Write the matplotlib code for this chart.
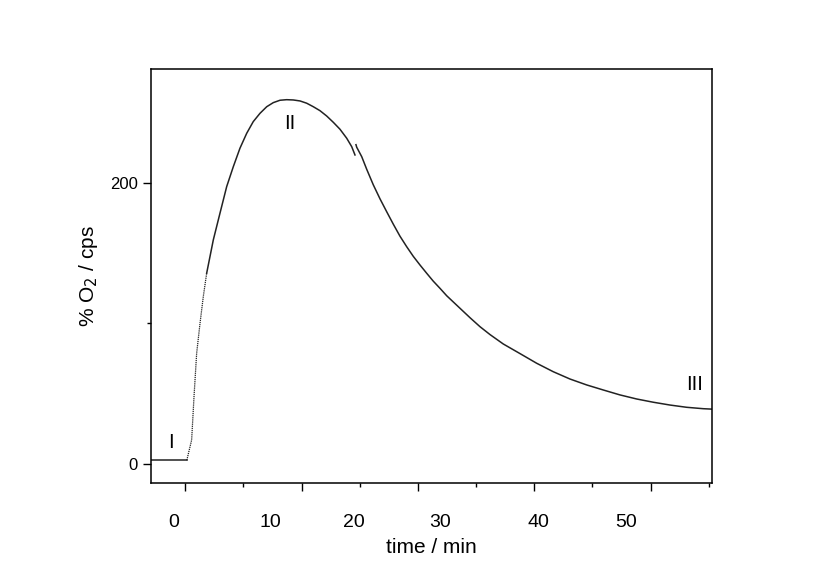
#!/usr/bin/env python3
# -*- coding: utf-8 -*-

import matplotlib
matplotlib.use("Agg")
import matplotlib.pyplot as plt
import numpy as np

plt.rcParams['font.family'] = ['Liberation Sans', 'DejaVu Sans']

# trace: time in min, signal in cps
t_base = [-2.31, -1.0, 0.0, 1.0, 1.62]
o2_base = [2.6, 2.6, 2.6, 2.6, 2.6]
# steep rise (sparsely sampled in the original, looks dotted)
t_rise = [1.62, 1.68, 2.16, 2.42, 2.71, 3.08, 3.44, 3.81]
o2_rise = [2.6, 4.05, 17.1, 47.9, 78.7, 100.0, 119.0, 135.6]
# up to the maximum and down to the break near 20 min
t_peak = [3.81, 4.54, 5.27, 6.01, 6.74, 7.47, 8.21, 8.93, 9.67, 10.41, 11.13,
          11.87, 12.60, 13.33, 14.07, 14.80, 15.53, 16.26, 17.0, 17.73, 18.46,
          19.20, 19.75, 20.11]
o2_peak = [135.6, 159.3, 178.2, 197.2, 211.4, 224.5, 235.1, 243.4, 249.3, 254.0,
           256.9, 258.6, 259.0, 258.8, 258.1, 256.5, 254.0, 251.2, 247.4, 242.9,
           238.0, 231.6, 225.6, 219.7]
# decay after the break
t_decay = [20.22, 20.30, 20.85, 21.40, 22.12, 22.86, 23.59, 24.32, 25.05, 25.79,
           26.52, 27.25, 27.99, 28.71, 29.45, 30.19, 32.75, 33.85, 34.95,
           36.41, 38.24, 40.08, 41.90, 43.74, 45.57, 47.40, 49.23, 51.07, 52.89,
           54.73, 56.56, 58.38, 59.34]
o2_decay = [227.0, 225.2, 218.5, 209.5, 198.5, 188.5, 179.4, 170.5, 162.0, 154.5,
            147.6, 141.5, 135.6, 130.0, 124.9, 119.6, 104.0, 97.6, 92.0,
            85.3, 78.5, 71.6, 65.6, 60.4, 56.2, 52.6, 49.1, 46.2, 43.9,
            41.9, 40.3, 39.3, 39.0]

xtick_labels = ["0", "10", "20", "30", "40", "50"]
xtick_label_pos = [0.2, 10.8, 20.0, 29.5, 40.3, 49.9]
phase_labels = ["I", "II", "III"]
phase_pos = [(-0.11, 15.6), (12.97, 242.3), (57.47, 56.2)]

fig = plt.figure(figsize=(8.13, 5.69), dpi=100)
ax = fig.add_axes([0.1857, 0.1517, 0.690, 0.7265])

col = "#222222"
ax.plot(t_base, o2_base, color=col, lw=1.1)
ax.plot(t_rise, o2_rise, color=col, lw=0.9, ls=(0, (1, 0.7)))
ax.plot(t_peak, o2_peak, color=col, lw=1.1)
ax.plot(t_decay, o2_decay, color=col, lw=1.1)

ax.set_xlim(-2.31, 59.34)
ax.set_ylim(-13.3, 280.6)

# tick marks sit on their own grid, labels are placed separately
tick_pos = 1.46 + 6.393 * np.arange(10)
ax.set_xticks(tick_pos[::2])
ax.set_xticks(tick_pos[1::2], minor=True)
ax.set_xticklabels([])
for lab, xp in zip(xtick_labels, xtick_label_pos):
    ax.text(xp, -0.0975, lab, transform=ax.get_xaxis_transform(),
            ha="center", va="center", fontsize=14)

ax.set_yticks([0, 200])
ax.set_yticks([100], minor=True)
ax.tick_params(axis="y", labelsize=12)
ax.tick_params(which="major", length=6, width=1.0, direction="out")
ax.tick_params(which="minor", length=3, width=1.0, direction="out")
for sp in ax.spines.values():
    sp.set_linewidth(1.1)

ax.set_xlabel("time / min", fontsize=15, labelpad=30)
ax.set_ylabel("% O$_2$ / cps", fontsize=15, labelpad=7)

for lab, (xp, yp) in zip(phase_labels, phase_pos):
    ax.text(xp, yp, lab, ha="center", va="center", fontsize=14.5)

fig.savefig("out.png", dpi=100)
